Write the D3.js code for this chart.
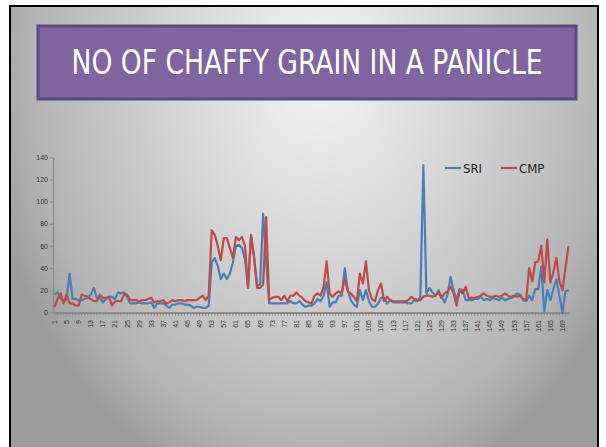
<!DOCTYPE html>
<html>
<head>
<meta charset="utf-8">
<script src="https://cdn.jsdelivr.net/npm/d3@7/dist/d3.min.js"></script>
<style>
  html, body { margin: 0; padding: 0; background: #fff; }
  svg { display: block; }
</style>
</head>
<body>
<div id="container"></div>
<script>
// chart data
const title = 'NO OF CHAFFY GRAIN IN A PANICLE';
const seriesNames = ['SRI', 'CMP'];
const categories = d3.range(1, 172);
const yTicks = [0, 20, 40, 60, 80, 100, 120, 140];

const sri = [
  16, 18, 13, 10, 12, 35, 12, 12, 11, 11, 12, 13, 16, 22, 13, 13, 9, 12, 14, 14,
  12, 18, 17, 18, 14, 8, 8, 8, 9, 8, 8, 8, 9, 4, 8, 8, 8, 6, 4, 7,
  7, 8, 8, 7, 7, 6, 4, 5, 5, 4, 4, 6, 45, 49, 42, 30, 35, 30, 35, 45,
  60, 61, 58, 48, 23, 68, 50, 24, 25, 89, 45, 8, 8, 8, 8, 8, 8, 8, 10, 8,
  8, 10, 7, 5, 6, 6, 8, 12, 10, 15, 27, 5, 9, 9, 15, 15, 40, 20, 11, 7,
  5, 20, 11, 20, 10, 5, 5, 8, 13, 13, 8, 11, 9, 9, 9, 9, 9, 8, 8, 11,
  10, 14, 133, 17, 22, 18, 15, 20, 14, 9, 16, 32, 20, 11, 21, 20, 11, 11, 11, 12,
  12, 14, 11, 12, 11, 13, 12, 11, 13, 11, 12, 13, 14, 17, 16, 11, 10, 15, 11, 21,
  21, 41, 1, 20, 11, 21, 30, 15, 0, 19, 20
];

const cmp = [
  5, 12, 17, 8, 16, 8, 8, 6, 6, 16, 15, 14, 12, 10, 10, 16, 13, 13, 14, 6,
  10, 10, 10, 16, 16, 11, 11, 11, 10, 11, 11, 12, 13, 9, 10, 10, 11, 8, 9, 11,
  10, 11, 11, 10, 11, 11, 11, 11, 13, 15, 11, 15, 74, 70, 60, 47, 67, 67, 58, 49,
  68, 65, 68, 60, 22, 70, 50, 22, 22, 25, 86, 11, 13, 14, 14, 11, 15, 10, 15, 15,
  18, 15, 13, 10, 9, 8, 15, 17, 15, 23, 46, 17, 14, 17, 19, 17, 30, 19, 17, 14,
  10, 35, 26, 46, 20, 12, 10, 20, 26, 10, 14, 11, 10, 10, 10, 10, 10, 11, 14, 12,
  11, 11, 14, 15, 15, 14, 15, 18, 13, 17, 19, 23, 17, 6, 20, 17, 23, 13, 13, 13,
  14, 15, 17, 15, 14, 14, 15, 14, 15, 17, 15, 14, 15, 14, 15, 12, 11, 40, 28, 45,
  46, 60, 27, 66, 27, 36, 49, 28, 20, 40, 60
];

const colors = { SRI: '#4a7ebb', CMP: '#be4b48' };

const width = 606, height = 447;
const svg = d3.select('#container').append('svg')
  .attr('width', width)
  .attr('height', height);

// slide background
const defs = svg.append('defs');
const grad = defs.append('radialGradient')
  .attr('id', 'bg')
  .attr('gradientUnits', 'userSpaceOnUse')
  .attr('cx', 0).attr('cy', 0).attr('r', 1)
  .attr('gradientTransform', 'translate(320,70) scale(340,440)');
grad.append('stop').attr('offset', 0).attr('stop-color', '#f4f4f4');
grad.append('stop').attr('offset', 0.4).attr('stop-color', '#d8d8d8');
grad.append('stop').attr('offset', 0.85).attr('stop-color', '#b4b4b4');
grad.append('stop').attr('offset', 1).attr('stop-color', '#9d9d9d');

svg.append('rect')
  .attr('x', 10).attr('y', 6)
  .attr('width', 588).attr('height', 450)
  .attr('fill', 'url(#bg)')
  .attr('stroke', '#000')
  .attr('stroke-width', 2);

// title box
svg.append('rect')
  .attr('x', 38).attr('y', 26)
  .attr('width', 538).attr('height', 73)
  .attr('fill', '#8064a2')
  .attr('stroke', '#5c4a7e')
  .attr('stroke-width', 3);

svg.append('text')
  .attr('x', 307).attr('y', 74)
  .attr('text-anchor', 'middle')
  .attr('textLength', 471)
  .attr('lengthAdjust', 'spacingAndGlyphs')
  .style('font-family', "'Liberation Sans Narrow', 'DejaVu Sans Condensed', sans-serif")
  .style('font-size', '33px')
  .style('fill', '#fff')
  .text(title);

// scales
const x = d3.scalePoint()
  .domain(categories)
  .range([53, 570])
  .padding(0.5);

const xBand = d3.scaleBand()
  .domain(categories)
  .range([53, 570]);

const y = d3.scaleLinear()
  .domain([0, 140])
  .range([312.3, 157.3]);

// y axis
const yAxis = svg.append('g')
  .attr('transform', 'translate(53,0)')
  .call(d3.axisLeft(y).tickValues(yTicks).tickSize(3).tickPadding(2).tickSizeOuter(0));
yAxis.select('.domain').attr('stroke', '#8c8c8c').attr('stroke-width', 1.5);
yAxis.selectAll('.tick line').attr('stroke', '#8c8c8c');
yAxis.selectAll('.tick text')
  .style('font-family', "'Liberation Sans', Arial, sans-serif")
  .style('font-size', '7px')
  .attr('fill', '#333');

// x axis, a tick per category and a label every fourth
const xAxis = svg.append('g')
  .attr('transform', 'translate(0,312.5)')
  .call(d3.axisBottom(xBand)
    .tickSize(3)
    .tickSizeOuter(0)
    .tickFormat(d => (d - 1) % 4 === 0 ? d : ''));
xAxis.select('.domain').attr('stroke', '#8c8c8c').attr('stroke-width', 2);
xAxis.selectAll('.tick line').attr('stroke', '#8c8c8c').attr('stroke-width', 1.2);
xAxis.selectAll('.tick text')
  .attr('transform', 'rotate(-90)')
  .attr('x', -7.5)
  .attr('y', 0)
  .attr('dy', '0.35em')
  .attr('text-anchor', 'end')
  .style('font-family', "'Liberation Sans', Arial, sans-serif")
  .style('font-size', '7px')
  .attr('fill', '#333');

// lines
const line = d3.line()
  .x((d, i) => x(categories[i]))
  .y(d => y(d));

[['SRI', sri], ['CMP', cmp]].forEach(([name, values]) => {
  svg.append('path')
    .datum(values)
    .attr('d', line)
    .attr('fill', 'none')
    .attr('stroke', colors[name])
    .attr('stroke-width', 2.2)
    .attr('stroke-linejoin', 'round');
});

// legend
const legend = svg.append('g').attr('transform', 'translate(445,168)');
const legendX = [0, 56];
seriesNames.forEach((name, i) => {
  const g = legend.append('g').attr('transform', `translate(${legendX[i]},0)`);
  g.append('line')
    .attr('x1', 0).attr('x2', 16)
    .attr('stroke', colors[name])
    .attr('stroke-width', 2.2);
  g.append('text')
    .attr('x', 18).attr('y', 4.5)
    .style('font-family', "'Liberation Sans Narrow', 'DejaVu Sans Condensed', sans-serif")
    .style('font-size', '13px')
    .attr('fill', '#222')
    .text(name);
});
</script>
</body>
</html>
